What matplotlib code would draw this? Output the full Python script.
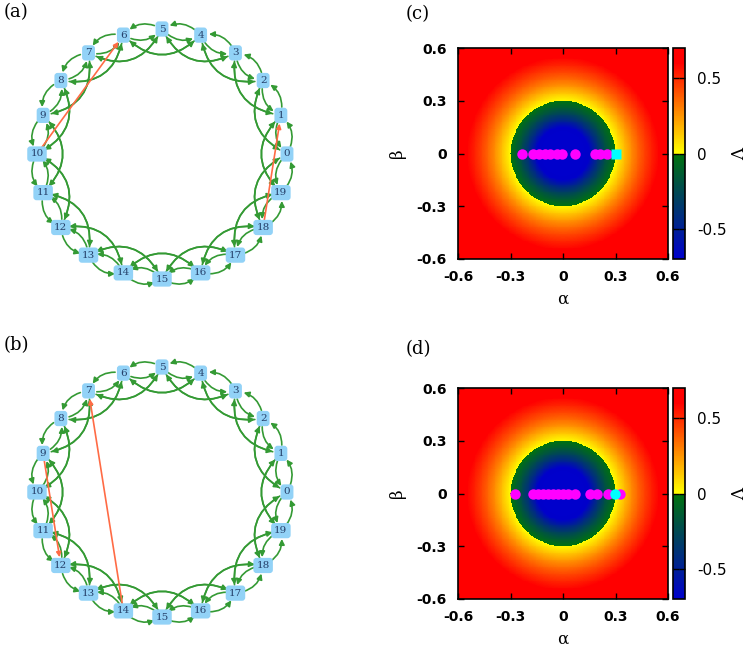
import numpy as np
import matplotlib
matplotlib.use("Agg")
import matplotlib.pyplot as plt
from matplotlib.patches import FancyArrowPatch
from matplotlib.colors import LinearSegmentedColormap

# ring network: 20 nodes, each linked to i+-1 and i+-2
n_nodes = 20
ring_offsets = [1, -1, 2, -2]
# extra (rewired) links, source -> target
extra_a = [(10, 6), (18, 1)]
extra_b = [(14, 7), (9, 12)]

# radial profile of Lambda (r = sqrt(alpha^2 + beta^2))
prof_r = [0.0, 0.10, 0.15, 0.20, 0.25, 0.299, 0.301, 0.35, 0.40, 0.45, 0.50, 0.60, 0.90]
prof_lam = [-0.70, -0.70, -0.69, -0.41, -0.18, -0.005, 0.005, 0.15, 0.29, 0.41, 0.51, 0.69, 0.70]

# eigenvalue markers on beta = 0
dots_c = [-0.236, -0.17, -0.14, -0.103, -0.074, -0.036, -0.008, 0.069, 0.183, 0.211, 0.25]
dots_d = [-0.274, -0.17, -0.141, -0.113, -0.084, -0.055, -0.027, 0.002, 0.03, 0.069,
          0.154, 0.192, 0.259, 0.326]
cyan_c = 0.303
cyan_d = 0.297

W, H = 749, 657
fig = plt.figure(figsize=(W / 100, H / 100), dpi=100)


def px_axes(x0, y0, x1, y1):
    return fig.add_axes([x0 / W, 1 - y1 / H, (x1 - x0) / W, (y1 - y0) / H])


green = '#349a34'
red = '#ff6b45'


def draw_ring(ax, extra):
    ang = np.deg2rad(np.arange(n_nodes) * 360.0 / n_nodes)
    pos = np.c_[np.cos(ang), np.sin(ang)]
    for i in range(n_nodes):
        for k in ring_offsets:
            j = (i + k) % n_nodes
            if abs(k) == 1:
                rad = 0.4
            else:
                # both directions of the second-neighbour link bow inwards
                rad = -0.5 if k > 0 else 0.5
            a = FancyArrowPatch(pos[i], pos[j], connectionstyle=f'arc3,rad={rad}',
                                arrowstyle='-|>', mutation_scale=8, lw=1.2,
                                color=green, shrinkA=6, shrinkB=6, zorder=2)
            ax.add_patch(a)
    for s, t in extra:
        a = FancyArrowPatch(pos[s], pos[t], arrowstyle='-|>', mutation_scale=7,
                            lw=1.2, color=red, shrinkA=3, shrinkB=6, zorder=3)
        ax.add_patch(a)
    for i in range(n_nodes):
        ax.text(pos[i, 0], pos[i, 1], str(i), ha='center', va='center',
                fontsize=7.5, family='DejaVu Serif', color='#25406a', zorder=4,
                bbox=dict(boxstyle='round,pad=0.3', fc='#92d2f7', ec='none'))
    ax.set_xlim(-1.2, 1.2)
    ax.set_ylim(-1.2, 1.2)
    ax.set_aspect('equal')
    ax.axis('off')


ax_a = px_axes(12, 4, 312, 304)
draw_ring(ax_a, extra_a)
ax_b = px_axes(12, 342, 312, 642)
draw_ring(ax_b, extra_b)

# colour map: blue -> green below 0, yellow -> orange -> red above 0
cmap = LinearSegmentedColormap('lam', {
    'red':   [(0, 0.0, 0.0), (0.5, 0.0, 1.0), (1, 1.0, 1.0)],
    'green': [(0, 0.0, 0.0), (0.5, 0.45, 1.0), (0.93, 0.0, 0.0), (1, 0.0, 0.0)],
    'blue':  [(0, 0.8, 0.8), (0.5, 0.05, 0.0), (1, 0.0, 0.0)],
})

g = np.arange(-0.6, 0.6001, 0.005)
A, B = np.meshgrid(g, g)
lam = np.interp(np.hypot(A, B), prof_r, prof_lam)

tick_font = dict(fontsize=10, fontweight='bold', family='DejaVu Sans')


def draw_map(ax, cax, dots, cyan, cyan_marker):
    im = ax.imshow(lam, origin='lower', extent=[-0.6, 0.6, -0.6, 0.6], cmap=cmap,
                   vmin=-0.7, vmax=0.7, interpolation='nearest', aspect='auto')
    ax.plot(dots, np.zeros(len(dots)), 'o', color='#ff00ff', ms=7.5, mec='none')
    ax.plot([cyan], [0], cyan_marker, color='#00ffff', ms=7.5, mec='none')
    ax.set_xlim(-0.6, 0.6)
    ax.set_ylim(-0.6, 0.6)
    ticks = [-0.6, -0.3, 0, 0.3, 0.6]
    labs = ['-0.6', '-0.3', '0', '0.3', '0.6']
    ax.set_xticks(ticks, labs, **tick_font)
    ax.set_yticks(ticks, labs, **tick_font)
    ax.tick_params(direction='in', top=True, right=True, length=4, width=1, pad=8)
    for s in ax.spines.values():
        s.set_linewidth(1.2)
    ax.set_xlabel('α', fontsize=12, family='DejaVu Serif', labelpad=5)
    ax.set_ylabel('β', fontsize=12, family='DejaVu Serif', labelpad=8)
    cb = fig.colorbar(im, cax=cax)
    cb.set_ticks([-0.5, 0, 0.5], labels=['-0.5', '0', '0.5'])
    for t in cb.ax.get_yticklabels():
        t.set_fontsize(11)
        t.set_family('DejaVu Sans')
    cb.ax.tick_params(direction='in', left=True, right=True, length=4, width=1, pad=9)
    cb.outline.set_linewidth(1.2)
    cb.set_label('Λ', fontsize=12, family='DejaVu Serif', labelpad=3)


ax_c = px_axes(458, 48, 668, 259)
cax_c = px_axes(673, 48, 685, 259)
draw_map(ax_c, cax_c, dots_c, cyan_c, 's')

ax_d = px_axes(458, 388, 668, 599)
cax_d = px_axes(673, 388, 685, 599)
draw_map(ax_d, cax_d, dots_d, cyan_d, 'o')

lab = dict(fontsize=13, family='DejaVu Serif', va='top', ha='left')
fig.text(4 / W, 1 - 3 / H, '(a)', **lab)
fig.text(4 / W, 1 - 336 / H, '(b)', **lab)
fig.text(406 / W, 1 - 5 / H, '(c)', **lab)
fig.text(406 / W, 1 - 340 / H, '(d)', **lab)

fig.savefig('out.png', dpi=100)
